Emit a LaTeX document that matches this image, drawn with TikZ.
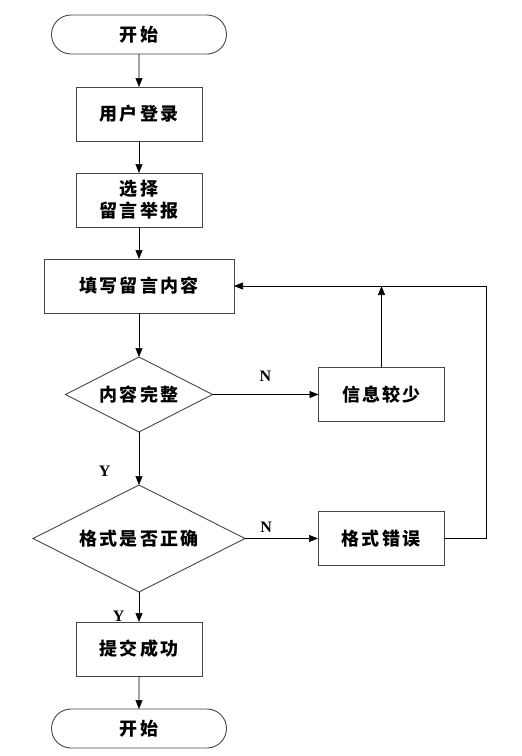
\documentclass[tikz,border=0pt]{standalone}
\usepackage{fontspec}
\setmainfont{Liberation Serif}
\newfontfamily\cjk{Noto Sans CJK SC}[LetterSpace=12]
\usepackage{xcolor}
\usetikzlibrary{arrows.meta, positioning, shapes.geometric, shapes.misc}
\definecolor{linegray}{RGB}{70,70,70}

\begin{document}
\begin{tikzpicture}[
    x=1pt, y=1pt,
    node distance=32pt,
    box/.style={
        rectangle,
        draw=linegray,
        line width=0.9pt,
        align=center,
        inner sep=0pt,
        outer sep=0pt,
        minimum width=126pt,
        minimum height=54pt,
        font=\cjk\bfseries\fontsize{18}{22}\selectfont
    },
    termbox/.style={box, rounded rectangle, minimum width=175pt, minimum height=39pt},
    widebox/.style={box, minimum width=190pt},
    decision/.style={box, diamond, shape aspect=2, minimum width=147pt, minimum height=75pt},
    yesno/.style={font=\bfseries\fontsize{16}{16}\selectfont},
    arrow/.style={-{Triangle[length=9pt,width=7pt]}, line width=0.6pt, draw=black}
]

\useasboundingbox (0,0) rectangle (522,-756);

\node[termbox] (start) at (139,-34.5) {开始};
\node[box, below=33pt of start] (login) {用户登录};
\node[box, below=of login] (choose) {选择\\留言举报};
\node[widebox, below=of choose] (fill) {填写留言内容};
\node[decision, below=44pt of fill] (complete) {内容完整};
\node[box, right=106pt of complete] (few) {信息较少};
\node[decision, minimum width=212pt, minimum height=107pt, below=53pt of complete] (format) {格式是否正确};
\node[box, right=73pt of format] (wrong) {格式错误};
\node[box, below=30pt of format] (submit) {提交成功};
\node[termbox, below=33pt of submit] (finish) {开始};
\coordinate[right=42pt of wrong] (loop);

\draw[arrow] (start) -- (login);
\draw[arrow] (login) -- (choose);
\draw[arrow] (choose) -- (fill);
\draw[arrow] (fill) -- (complete);
\draw[arrow] (complete) -- node[yesno, above=9pt] {N} (few);
\draw[arrow] (few) -- (few |- fill.east);
\draw[arrow] (complete) -- node[yesno, pos=0.74, left=25pt] {Y} (format);
\draw[arrow] (format) -- node[yesno, pos=0.29, above=2pt] {N} (wrong);
\draw[arrow] (wrong) -- (loop) |- (fill);
\draw[arrow] (format) -- node[yesno, pos=0.8, left=11pt] {Y} (submit);
\draw[arrow] (submit) -- (finish);

\end{tikzpicture}
\end{document}
